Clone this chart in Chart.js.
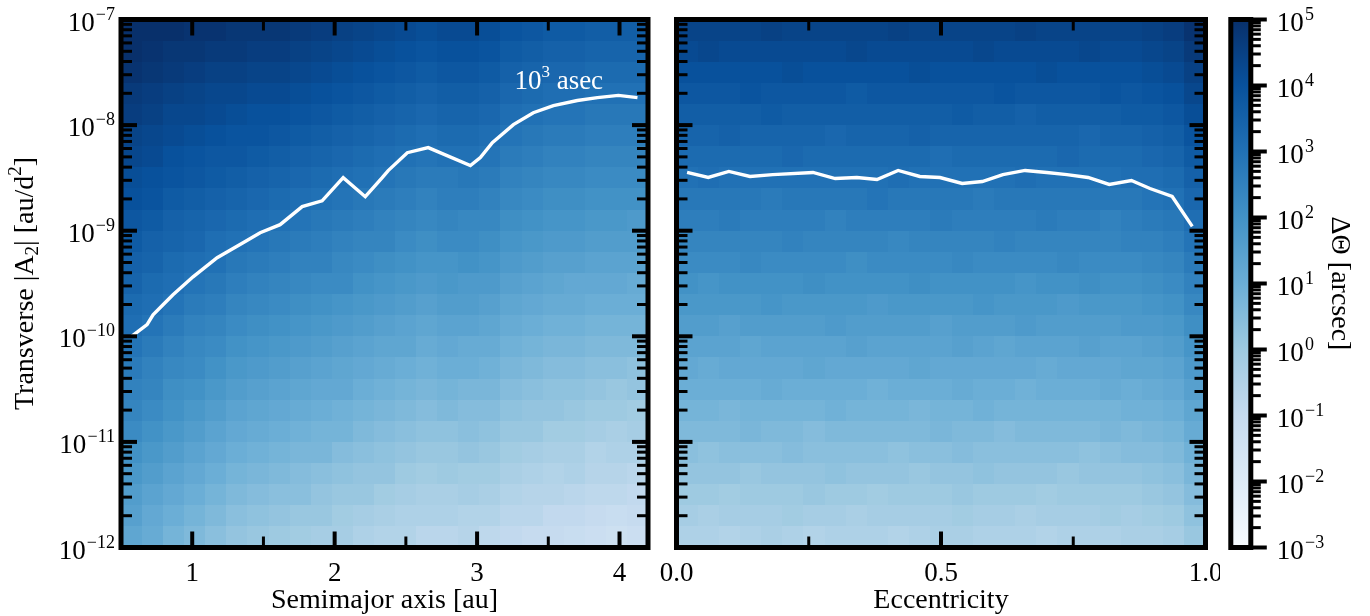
<!DOCTYPE html>
<html lang="en">
<head>
<meta charset="UTF-8">
<title>Astrometric shift vs transverse acceleration</title>
<script src="https://cdn.jsdelivr.net/npm/chart.js"></script>
<style>
  html, body { margin: 0; padding: 0; background: #fff; }
  body { width: 1370px; height: 616px; position: relative; overflow: hidden; }
  canvas { position: absolute; top: 0; }
</style>
</head>
<body>
<canvas id="leftPanel" width="660" height="616" style="left:0"></canvas>
<canvas id="rightPanel" width="560" height="616" style="left:660px"></canvas>
<canvas id="colorBar" width="150" height="616" style="left:1220px"></canvas>
<script>
// grid cell edges
const semimajorEdges = [0.5, 0.648, 0.796, 0.944, 1.092, 1.24, 1.388, 1.536, 1.684, 1.832, 1.98, 2.128, 2.276,
  2.424, 2.572, 2.72, 2.868, 3.016, 3.164, 3.312, 3.46, 3.608, 3.756, 3.904, 4.052, 4.2];
const eccEdges = [0, 0.04, 0.08, 0.12, 0.16, 0.2, 0.24, 0.28, 0.32, 0.36, 0.4, 0.44, 0.48, 0.52, 0.56, 0.6,
  0.64, 0.68, 0.72, 0.76, 0.8, 0.84, 0.88, 0.92, 0.96, 1];
const accelEdgeExp = [-12, -11.8, -11.6, -11.4, -11.2, -11, -10.8, -10.6, -10.4, -10.2, -10, -9.8, -9.6,
  -9.4, -9.2, -9, -8.8, -8.6, -8.4, -8.2, -8, -7.8, -7.6, -7.4, -7.2, -7];

// log10 of the shift in arcsec, one row per |A2| bin (lowest first), one column per semimajor axis bin
const shiftVsSemimajor = [
  [1.3, 1.1, 0.8, 0.6, 0.4, 0.2, 0.1, 0.0, -0.1, -0.2, -0.2, -0.4, -0.5, -0.5, -0.7, -0.7, -0.6, -0.8, -0.9, -1.0, -1.0, -1.1, -1.2, -1.3, -1.2],
  [1.5, 1.2, 1.0, 0.8, 0.6, 0.4, 0.3, 0.2, 0.1, 0.1, -0.1, -0.2, -0.3, -0.4, -0.4, -0.4, -0.5, -0.5, -0.7, -0.7, -0.9, -0.9, -1.0, -1.1, -1.0],
  [1.6, 1.4, 1.2, 1.0, 0.8, 0.6, 0.5, 0.4, 0.4, 0.2, 0.1, 0.1, -0.1, -0.2, -0.3, -0.3, -0.2, -0.3, -0.5, -0.6, -0.6, -0.7, -0.8, -0.8, -0.9],
  [1.8, 1.6, 1.4, 1.2, 1.0, 0.8, 0.7, 0.6, 0.5, 0.4, 0.3, 0.2, 0.2, 0.0, -0.1, 0.0, -0.1, -0.1, -0.3, -0.4, -0.5, -0.4, -0.6, -0.6, -0.7],
  [2.0, 1.8, 1.6, 1.4, 1.2, 1.0, 0.9, 0.8, 0.7, 0.7, 0.5, 0.4, 0.3, 0.2, 0.1, 0.1, 0.2, 0.1, -0.1, -0.2, -0.3, -0.3, -0.5, -0.4, -0.4],
  [2.2, 2.0, 1.8, 1.6, 1.4, 1.2, 1.1, 1.0, 0.9, 0.8, 0.8, 0.6, 0.5, 0.4, 0.3, 0.3, 0.4, 0.3, 0.1, 0.1, -0.1, -0.1, -0.2, -0.3, -0.2],
  [2.4, 2.2, 2.0, 1.8, 1.6, 1.4, 1.3, 1.2, 1.1, 1.0, 0.9, 0.8, 0.7, 0.6, 0.5, 0.6, 0.5, 0.5, 0.3, 0.2, 0.2, 0.1, 0.0, 0.0, -0.1],
  [2.5, 2.4, 2.1, 2.0, 1.8, 1.6, 1.5, 1.4, 1.3, 1.2, 1.2, 1.0, 0.9, 0.8, 0.7, 0.8, 0.7, 0.7, 0.5, 0.4, 0.3, 0.3, 0.2, 0.1, 0.2],
  [2.7, 2.5, 2.3, 2.2, 2.0, 1.8, 1.7, 1.6, 1.5, 1.4, 1.3, 1.2, 1.1, 1.0, 0.9, 1.0, 1.0, 0.9, 0.7, 0.6, 0.5, 0.5, 0.4, 0.4, 0.3],
  [2.9, 2.7, 2.5, 2.3, 2.2, 2.0, 1.9, 1.8, 1.7, 1.6, 1.5, 1.4, 1.3, 1.3, 1.1, 1.2, 1.1, 1.1, 0.9, 0.8, 0.7, 0.7, 0.6, 0.6, 0.6],
  [3.1, 2.9, 2.7, 2.5, 2.4, 2.2, 2.1, 2.0, 1.9, 1.8, 1.7, 1.6, 1.5, 1.4, 1.3, 1.4, 1.4, 1.3, 1.1, 1.0, 0.9, 0.9, 0.8, 0.8, 0.8],
  [3.2, 3.1, 2.9, 2.7, 2.6, 2.4, 2.3, 2.2, 2.1, 2.0, 1.9, 1.8, 1.7, 1.6, 1.5, 1.6, 1.6, 1.5, 1.3, 1.2, 1.1, 1.1, 1.0, 1.0, 1.0],
  [3.4, 3.2, 3.1, 2.9, 2.8, 2.6, 2.5, 2.4, 2.3, 2.2, 2.2, 2.0, 1.9, 1.8, 1.7, 1.8, 1.7, 1.7, 1.5, 1.4, 1.3, 1.2, 1.2, 1.2, 1.1],
  [3.5, 3.4, 3.2, 3.1, 3.0, 2.8, 2.7, 2.6, 2.5, 2.5, 2.3, 2.2, 2.1, 2.0, 1.9, 1.9, 2.0, 1.9, 1.7, 1.6, 1.5, 1.5, 1.4, 1.4, 1.4],
  [3.7, 3.5, 3.4, 3.3, 3.1, 3.0, 2.9, 2.8, 2.7, 2.6, 2.5, 2.4, 2.4, 2.2, 2.1, 2.2, 2.2, 2.1, 1.9, 1.8, 1.7, 1.7, 1.6, 1.6, 1.6],
  [3.8, 3.7, 3.5, 3.4, 3.3, 3.2, 3.1, 3.0, 2.9, 2.8, 2.7, 2.6, 2.5, 2.4, 2.3, 2.4, 2.3, 2.3, 2.1, 2.0, 1.9, 1.9, 1.8, 1.8, 1.7],
  [4.0, 3.9, 3.7, 3.6, 3.5, 3.4, 3.3, 3.2, 3.1, 3.0, 2.9, 2.8, 2.7, 2.6, 2.5, 2.6, 2.6, 2.5, 2.3, 2.2, 2.1, 2.1, 2.0, 2.0, 2.0],
  [4.1, 4.0, 3.9, 3.8, 3.7, 3.6, 3.5, 3.4, 3.3, 3.2, 3.1, 3.0, 2.9, 2.8, 2.7, 2.7, 2.8, 2.7, 2.5, 2.4, 2.3, 2.3, 2.2, 2.2, 2.2],
  [4.3, 4.2, 4.0, 3.9, 3.8, 3.8, 3.7, 3.6, 3.5, 3.4, 3.3, 3.2, 3.1, 3.0, 2.9, 3.0, 3.0, 2.9, 2.7, 2.6, 2.5, 2.5, 2.4, 2.4, 2.4],
  [4.4, 4.3, 4.2, 4.1, 4.0, 3.9, 3.9, 3.8, 3.7, 3.6, 3.5, 3.4, 3.3, 3.2, 3.1, 3.2, 3.2, 3.1, 2.9, 2.8, 2.7, 2.7, 2.6, 2.6, 2.6],
  [4.6, 4.5, 4.3, 4.3, 4.2, 4.1, 4.0, 4.0, 3.9, 3.8, 3.7, 3.6, 3.5, 3.4, 3.3, 3.4, 3.4, 3.3, 3.1, 3.0, 2.9, 2.9, 2.8, 2.8, 2.8],
  [4.7, 4.6, 4.5, 4.4, 4.3, 4.3, 4.2, 4.2, 4.1, 4.0, 3.9, 3.8, 3.7, 3.6, 3.5, 3.6, 3.6, 3.5, 3.3, 3.2, 3.1, 3.1, 3.0, 3.0, 3.0],
  [4.9, 4.8, 4.7, 4.6, 4.5, 4.5, 4.4, 4.4, 4.3, 4.2, 4.1, 4.0, 3.9, 3.8, 3.7, 3.8, 3.8, 3.7, 3.5, 3.4, 3.3, 3.3, 3.2, 3.2, 3.2],
  [5.0, 4.9, 4.8, 4.8, 4.7, 4.7, 4.6, 4.6, 4.5, 4.4, 4.3, 4.2, 4.1, 4.0, 3.9, 4.0, 4.0, 3.9, 3.7, 3.6, 3.5, 3.5, 3.4, 3.4, 3.4],
  [5.0, 5.0, 5.0, 4.9, 4.9, 4.8, 4.8, 4.8, 4.7, 4.6, 4.5, 4.4, 4.3, 4.2, 4.1, 4.2, 4.2, 4.1, 3.9, 3.8, 3.7, 3.7, 3.6, 3.6, 3.6]
];

// same quantity, one column per eccentricity bin
const shiftVsEcc = [
  [-0.4, -0.4, -0.5, -0.4, -0.3, -0.4, -0.5, -0.4, -0.4, -0.4, -0.5, -0.4, -0.3, -0.3, -0.4, -0.4, -0.4, -0.5, -0.4, -0.4, -0.4, -0.3, -0.3, -0.2, 0.1],
  [-0.2, -0.3, -0.2, -0.2, -0.2, -0.1, -0.2, -0.2, -0.3, -0.2, -0.2, -0.2, -0.2, -0.1, -0.2, -0.2, -0.3, -0.2, -0.2, -0.2, -0.1, -0.2, -0.1, 0.0, 0.3],
  [0.0, 0.0, -0.1, 0.0, 0.0, 0.0, 0.1, 0.0, 0.0, -0.1, 0.0, 0.0, 0.0, 0.1, 0.0, 0.0, 0.0, -0.1, 0.0, 0.0, 0.0, 0.0, 0.1, 0.2, 0.5],
  [0.2, 0.2, 0.2, 0.1, 0.2, 0.2, 0.2, 0.3, 0.2, 0.2, 0.2, 0.1, 0.2, 0.2, 0.3, 0.2, 0.2, 0.2, 0.1, 0.2, 0.2, 0.2, 0.3, 0.4, 0.7],
  [0.4, 0.3, 0.4, 0.4, 0.4, 0.5, 0.4, 0.4, 0.4, 0.4, 0.3, 0.4, 0.4, 0.5, 0.4, 0.4, 0.4, 0.4, 0.4, 0.3, 0.4, 0.5, 0.5, 0.6, 0.9],
  [0.6, 0.6, 0.6, 0.7, 0.6, 0.6, 0.5, 0.6, 0.6, 0.6, 0.6, 0.6, 0.7, 0.6, 0.6, 0.5, 0.6, 0.6, 0.6, 0.6, 0.7, 0.6, 0.7, 0.8, 1.1],
  [0.8, 0.8, 0.7, 0.8, 0.8, 0.8, 0.8, 0.9, 0.8, 0.8, 0.8, 0.7, 0.8, 0.8, 0.9, 0.8, 0.8, 0.8, 0.8, 0.8, 0.8, 0.9, 0.9, 1.0, 1.3],
  [1.0, 1.0, 1.0, 1.0, 1.1, 1.0, 1.0, 1.0, 1.0, 0.9, 1.0, 1.0, 1.0, 1.1, 1.0, 1.0, 0.9, 1.0, 1.0, 1.0, 1.1, 1.0, 1.1, 1.2, 1.5],
  [1.2, 1.1, 1.2, 1.2, 1.2, 1.2, 1.3, 1.2, 1.2, 1.2, 1.2, 1.3, 1.2, 1.2, 1.2, 1.2, 1.2, 1.1, 1.2, 1.2, 1.2, 1.3, 1.3, 1.4, 1.7],
  [1.4, 1.4, 1.4, 1.3, 1.4, 1.4, 1.4, 1.4, 1.5, 1.4, 1.4, 1.4, 1.4, 1.5, 1.4, 1.3, 1.4, 1.4, 1.4, 1.5, 1.4, 1.4, 1.5, 1.6, 1.9],
  [1.6, 1.6, 1.5, 1.6, 1.6, 1.6, 1.6, 1.7, 1.6, 1.6, 1.6, 1.6, 1.5, 1.6, 1.6, 1.6, 1.7, 1.6, 1.6, 1.6, 1.6, 1.7, 1.7, 1.8, 2.1],
  [1.8, 1.8, 1.8, 1.8, 1.9, 1.8, 1.8, 1.8, 1.8, 1.7, 1.8, 1.8, 1.8, 1.8, 1.9, 1.8, 1.8, 1.8, 1.7, 1.8, 1.8, 1.8, 1.9, 2.0, 2.3],
  [2.0, 1.9, 2.0, 2.0, 2.0, 2.0, 2.1, 2.0, 2.0, 2.0, 2.0, 2.1, 2.0, 2.0, 2.0, 2.0, 1.9, 2.0, 2.0, 2.1, 2.0, 2.0, 2.1, 2.2, 2.5],
  [2.2, 2.2, 2.2, 2.3, 2.2, 2.2, 2.2, 2.2, 2.1, 2.2, 2.2, 2.2, 2.2, 2.3, 2.2, 2.2, 2.2, 2.2, 2.3, 2.2, 2.2, 2.2, 2.3, 2.4, 2.7],
  [2.4, 2.4, 2.4, 2.4, 2.4, 2.5, 2.4, 2.4, 2.4, 2.4, 2.3, 2.4, 2.4, 2.4, 2.4, 2.5, 2.4, 2.4, 2.4, 2.4, 2.4, 2.5, 2.5, 2.6, 2.9],
  [2.6, 2.6, 2.7, 2.6, 2.6, 2.6, 2.6, 2.5, 2.6, 2.6, 2.6, 2.6, 2.7, 2.6, 2.6, 2.6, 2.6, 2.7, 2.6, 2.6, 2.5, 2.6, 2.7, 2.8, 3.1],
  [2.8, 2.8, 2.8, 2.8, 2.7, 2.8, 2.8, 2.8, 2.8, 2.9, 2.8, 2.8, 2.8, 2.8, 2.7, 2.8, 2.8, 2.8, 2.8, 2.8, 2.8, 2.8, 2.9, 3.0, 3.3],
  [3.0, 3.1, 3.0, 3.0, 3.0, 3.0, 3.0, 3.0, 3.0, 3.0, 3.1, 3.0, 3.0, 3.0, 3.0, 3.0, 3.1, 3.0, 3.0, 3.0, 3.0, 3.1, 3.1, 3.2, 3.5],
  [3.2, 3.2, 3.2, 3.2, 3.2, 3.3, 3.2, 3.2, 3.2, 3.2, 3.2, 3.2, 3.1, 3.2, 3.2, 3.2, 3.2, 3.2, 3.3, 3.2, 3.2, 3.2, 3.3, 3.4, 3.7],
  [3.4, 3.4, 3.5, 3.4, 3.4, 3.4, 3.4, 3.3, 3.4, 3.4, 3.4, 3.5, 3.4, 3.4, 3.4, 3.4, 3.4, 3.4, 3.4, 3.3, 3.4, 3.4, 3.5, 3.6, 3.9],
  [3.6, 3.6, 3.6, 3.6, 3.7, 3.6, 3.6, 3.6, 3.6, 3.6, 3.6, 3.6, 3.6, 3.7, 3.6, 3.6, 3.5, 3.6, 3.6, 3.6, 3.6, 3.7, 3.7, 3.8, 4.1],
  [3.8, 3.8, 3.8, 3.9, 3.8, 3.8, 3.8, 3.8, 3.7, 3.8, 3.8, 3.8, 3.8, 3.8, 3.8, 3.9, 3.8, 3.8, 3.8, 3.8, 3.9, 3.8, 3.9, 4.0, 4.3],
  [4.0, 4.0, 4.0, 4.0, 4.0, 4.1, 4.0, 4.0, 4.0, 4.0, 4.0, 4.1, 4.0, 4.0, 4.0, 4.0, 4.0, 4.1, 4.0, 4.0, 4.0, 4.0, 4.1, 4.2, 4.5],
  [4.2, 4.3, 4.2, 4.2, 4.2, 4.2, 4.2, 4.2, 4.3, 4.2, 4.2, 4.2, 4.2, 4.2, 4.3, 4.2, 4.2, 4.2, 4.2, 4.3, 4.2, 4.2, 4.3, 4.4, 4.7],
  [4.4, 4.4, 4.4, 4.4, 4.5, 4.4, 4.4, 4.4, 4.4, 4.4, 4.5, 4.4, 4.4, 4.4, 4.4, 4.4, 4.5, 4.4, 4.4, 4.4, 4.4, 4.4, 4.5, 4.6, 4.9]
];

// 10^3 arcsec contour in each panel
const contourSemimajor = [0.574, 0.683, 0.725, 0.795, 0.865, 1.006, 1.175, 1.357, 1.477, 1.617, 1.772, 1.912, 2.060, 2.215,
  2.334, 2.376, 2.510, 2.657, 2.953, 3.023, 3.107, 3.255, 3.395, 3.536, 3.704, 3.845, 3.992, 4.126];
const contourAccelA = [1.00e-10, 1.29e-10, 1.60e-10, 1.99e-10, 2.47e-10, 3.66e-10, 5.55e-10, 7.69e-10, 9.57e-10, 1.14e-9,
  1.69e-9, 1.92e-9, 3.18e-9, 2.10e-9, 3.18e-9, 3.71e-9, 5.48e-9, 6.12e-9, 4.13e-9, 4.92e-9, 6.82e-9, 1.01e-8, 1.31e-8,
  1.53e-8, 1.71e-8, 1.82e-8, 1.91e-8, 1.82e-8];
const contourEcc = [0.020, 0.060, 0.099, 0.139, 0.182, 0.258, 0.300, 0.341, 0.379, 0.419, 0.460, 0.498, 0.540, 0.578,
  0.617, 0.659, 0.700, 0.738, 0.778, 0.818, 0.860, 0.895, 0.937, 0.975];
const contourAccelE = [3.56e-9, 3.19e-9, 3.64e-9, 3.26e-9, 3.40e-9, 3.56e-9, 3.12e-9, 3.19e-9, 3.05e-9, 3.72e-9, 3.26e-9,
  3.19e-9, 2.80e-9, 2.92e-9, 3.40e-9, 3.72e-9, 3.56e-9, 3.40e-9, 3.19e-9, 2.74e-9, 2.99e-9, 2.51e-9, 2.11e-9, 1.1e-9];

// ticks
const semimajorTicks = [1, 2, 3, 4];
const semimajorMinor = [1.5, 2.5, 3.5];
const eccTicks = [0, 0.5, 1];
const eccTickLabels = ['0.0', '0.5', '1.0'];
const eccMinor = [0.25, 0.75];
const accelTickExp = [-12, -11, -10, -9, -8, -7];
const shiftTickExp = [-3, -2, -1, 0, 1, 2, 3, 4, 5];
const logMinor = [2, 3, 4, 5, 6, 7, 8, 9];

// matplotlib "Blues"
const bluesStops = ['#f7fbff', '#deebf7', '#c6dbef', '#9ecae1', '#6baed6', '#4292c6', '#2171b5', '#08519c', '#08306b'];

const FONT = '"Liberation Serif", "Times New Roman", serif';
const TICK_MAJOR = 16, TICK_MINOR = 11;

function hexRgb(h) {
  return [parseInt(h.slice(1, 3), 16), parseInt(h.slice(3, 5), 16), parseInt(h.slice(5, 7), 16)];
}

function blues(logv) {
  const lo = shiftTickExp[0], hi = shiftTickExp[shiftTickExp.length - 1];
  let t = Math.min(1, Math.max(0, (logv - lo) / (hi - lo))) * (bluesStops.length - 1);
  const i = Math.min(Math.floor(t), bluesStops.length - 2);
  const f = t - i;
  const a = hexRgb(bluesStops[i]), b = hexRgb(bluesStops[i + 1]);
  return 'rgb(' + a.map((v, k) => Math.round(v + (b[k] - v) * f)).join(',') + ')';
}

function tick(ctx, x1, y1, x2, y2, w) {
  ctx.lineWidth = w;
  ctx.beginPath();
  ctx.moveTo(x1, y1);
  ctx.lineTo(x2, y2);
  ctx.stroke();
}

// text runs with sub/superscripts: [{t, size, dy}]
function richWidth(ctx, parts) {
  return parts.reduce((w, p) => {
    ctx.font = p.size + 'px ' + FONT;
    return w + ctx.measureText(p.t).width;
  }, 0);
}
function drawRich(ctx, parts, x, y) {
  let cx = x;
  ctx.textAlign = 'left';
  ctx.textBaseline = 'alphabetic';
  parts.forEach(p => {
    ctx.font = p.size + 'px ' + FONT;
    ctx.fillText(p.t, cx, y + (p.dy || 0));
    cx += ctx.measureText(p.t).width;
  });
}
function powParts(exp) {
  const e = exp < 0 ? '\u2212' + Math.abs(exp) : String(exp);
  return [{ t: '10', size: 27 }, { t: '\u2009', size: 6 }, { t: e, size: 18, dy: -11 }];
}

// colour cells of one panel
function heatLayer(grid, xEdges) {
  return {
    id: 'heatLayer',
    beforeDatasetsDraw(chart) {
      const { ctx, scales: { x, y } } = chart;
      ctx.save();
      grid.forEach((row, r) => {
        const yTop = Math.round(y.getPixelForValue(10 ** accelEdgeExp[r + 1]));
        const yBot = Math.round(y.getPixelForValue(10 ** accelEdgeExp[r]));
        row.forEach((v, c) => {
          const x0 = Math.round(x.getPixelForValue(xEdges[c]));
          const x1 = Math.round(x.getPixelForValue(xEdges[c + 1]));
          ctx.fillStyle = blues(v);
          ctx.fillRect(x0, yTop, x1 - x0, yBot - yTop);
        });
      });
      ctx.restore();
    }
  };
}

// frame, inward ticks and text of one panel
function panelDecor(o) {
  return {
    id: 'panelDecor',
    afterDraw(chart) {
      const { ctx, chartArea: ca, scales: { x, y } } = chart;
      ctx.save();
      ctx.strokeStyle = '#000';
      ctx.fillStyle = '#000';
      ctx.lineCap = 'butt';

      accelTickExp.forEach((e, i) => {
        const py = y.getPixelForValue(10 ** e);
        tick(ctx, ca.left, py, ca.left + TICK_MAJOR, py, 4);
        tick(ctx, ca.right, py, ca.right - TICK_MAJOR, py, 4);
        if (i < accelTickExp.length - 1) {
          logMinor.forEach(m => {
            const pm = y.getPixelForValue(m * 10 ** e);
            tick(ctx, ca.left, pm, ca.left + TICK_MINOR, pm, 3);
            tick(ctx, ca.right, pm, ca.right - TICK_MINOR, pm, 3);
          });
        }
      });
      o.xTicks.forEach(v => {
        const px = x.getPixelForValue(v);
        tick(ctx, px, ca.bottom, px, ca.bottom - TICK_MAJOR, 4);
        tick(ctx, px, ca.top, px, ca.top + TICK_MAJOR, 4);
      });
      o.xMinor.forEach(v => {
        const px = x.getPixelForValue(v);
        tick(ctx, px, ca.bottom, px, ca.bottom - TICK_MINOR, 3);
        tick(ctx, px, ca.top, px, ca.top + TICK_MINOR, 3);
      });

      ctx.lineWidth = 5;
      ctx.strokeRect(ca.left, ca.top, ca.right - ca.left, ca.bottom - ca.top);

      // x tick labels and title
      ctx.textAlign = 'center';
      ctx.textBaseline = 'alphabetic';
      ctx.font = '27px ' + FONT;
      o.xTicks.forEach((v, i) => {
        ctx.fillText(o.xLabels[i], x.getPixelForValue(v), ca.bottom + 33.5);
      });
      ctx.font = '28px ' + FONT;
      ctx.fillText(o.xTitle, (ca.left + ca.right) / 2, ca.bottom + 60.5);

      if (o.yLabels) {
        accelTickExp.forEach(e => {
          const parts = powParts(e);
          const py = y.getPixelForValue(10 ** e);
          drawRich(ctx, parts, ca.left - 6 - richWidth(ctx, parts), py + 11);
        });
        const title = [
          { t: 'Transverse |A', size: 28 }, { t: '2', size: 19, dy: 5 },
          { t: '| [au/d', size: 28 }, { t: '2', size: 19, dy: -12 }, { t: ']', size: 28 }
        ];
        ctx.save();
        ctx.translate(33, (ca.top + ca.bottom) / 2);
        ctx.rotate(-Math.PI / 2);
        drawRich(ctx, title, -richWidth(ctx, title) / 2, 0);
        ctx.restore();
      }

      if (o.note) {
        ctx.fillStyle = '#fff';
        drawRich(ctx, o.note.parts, x.getPixelForValue(o.note.x), y.getPixelForValue(o.note.y));
      }
      ctx.restore();
    }
  };
}

function panelConfig(xs, ys, xMin, xMax, padding, grid, xEdges, decor) {
  return {
    type: 'line',
    data: {
      datasets: [{
        data: xs.map((v, i) => ({ x: v, y: ys[i] })),
        borderColor: '#ffffff',
        borderWidth: 3.4,
        pointRadius: 0,
        tension: 0,
        fill: false
      }]
    },
    options: {
      responsive: false,
      animation: false,
      events: [],
      layout: { padding },
      scales: {
        x: { type: 'linear', min: xMin, max: xMax, display: false },
        y: { type: 'logarithmic', min: 10 ** accelTickExp[0], max: 10 ** accelTickExp[accelTickExp.length - 1], display: false }
      },
      plugins: { legend: { display: false }, tooltip: { enabled: false } }
    },
    plugins: [heatLayer(grid, xEdges), panelDecor(decor)]
  };
}

new Chart(document.getElementById('leftPanel'), panelConfig(
  contourSemimajor, contourAccelA, semimajorEdges[0], semimajorEdges[semimajorEdges.length - 1],
  { left: 121, top: 19.5, right: 12, bottom: 68.5 },
  shiftVsSemimajor, semimajorEdges,
  {
    xTicks: semimajorTicks, xLabels: semimajorTicks.map(String), xMinor: semimajorMinor,
    xTitle: 'Semimajor axis [au]', yLabels: true,
    note: { x: 3.262, y: 2.22e-8, parts: [{ t: '10', size: 27 }, { t: '3', size: 17, dy: -12 }, { t: ' asec', size: 27 }] }
  }
));

new Chart(document.getElementById('rightPanel'), panelConfig(
  contourEcc, contourAccelE, eccEdges[0], eccEdges[eccEdges.length - 1],
  { left: 16.5, top: 19.5, right: 14.5, bottom: 68.5 },
  shiftVsEcc, eccEdges,
  { xTicks: eccTicks, xLabels: eccTickLabels, xMinor: eccMinor, xTitle: 'Eccentricity', yLabels: false }
));

// colour bar
new Chart(document.getElementById('colorBar'), {
  type: 'line',
  data: { datasets: [] },
  options: {
    responsive: false,
    animation: false,
    events: [],
    layout: { padding: { left: 10.8, top: 19.5, right: 119.2, bottom: 68.5 } },
    scales: {
      x: { type: 'linear', min: 0, max: 1, display: false },
      y: { type: 'logarithmic', min: 10 ** shiftTickExp[0], max: 10 ** shiftTickExp[shiftTickExp.length - 1], display: false }
    },
    plugins: { legend: { display: false }, tooltip: { enabled: false } }
  },
  plugins: [{
    id: 'colorBarDecor',
    beforeDatasetsDraw(chart) {
      const { ctx, chartArea: ca, scales: { y } } = chart;
      const yLo = y.getPixelForValue(10 ** shiftTickExp[0]);
      const yHi = y.getPixelForValue(10 ** shiftTickExp[shiftTickExp.length - 1]);
      const grad = ctx.createLinearGradient(0, yLo, 0, yHi);
      shiftTickExp.forEach((e, i) => {
        grad.addColorStop((yLo - y.getPixelForValue(10 ** e)) / (yLo - yHi), bluesStops[i]);
      });
      ctx.save();
      ctx.fillStyle = grad;
      ctx.fillRect(ca.left, ca.top, ca.right - ca.left, ca.bottom - ca.top);
      ctx.restore();
    },
    afterDraw(chart) {
      const { ctx, chartArea: ca, scales: { y } } = chart;
      ctx.save();
      ctx.strokeStyle = '#000';
      ctx.fillStyle = '#000';
      shiftTickExp.forEach((e, i) => {
        const py = y.getPixelForValue(10 ** e);
        tick(ctx, ca.right, py, ca.right + TICK_MAJOR, py, 4);
        if (i < shiftTickExp.length - 1) {
          logMinor.forEach(m => {
            const pm = y.getPixelForValue(m * 10 ** e);
            tick(ctx, ca.right, pm, ca.right + TICK_MINOR - 1, pm, 3);
          });
        }
        drawRich(ctx, powParts(e), ca.right + 26, py + 11);
      });
      ctx.lineWidth = 5;
      ctx.strokeRect(ca.left, ca.top, ca.right - ca.left, ca.bottom - ca.top);

      const title = [{ t: '\u0394\u0398 [arcsec]', size: 28 }];
      ctx.translate(111.5, (ca.top + ca.bottom) / 2);
      ctx.rotate(Math.PI / 2);
      drawRich(ctx, title, -richWidth(ctx, title) / 2, 0);
      ctx.restore();
    }
  }]
});
</script>
</body>
</html>
